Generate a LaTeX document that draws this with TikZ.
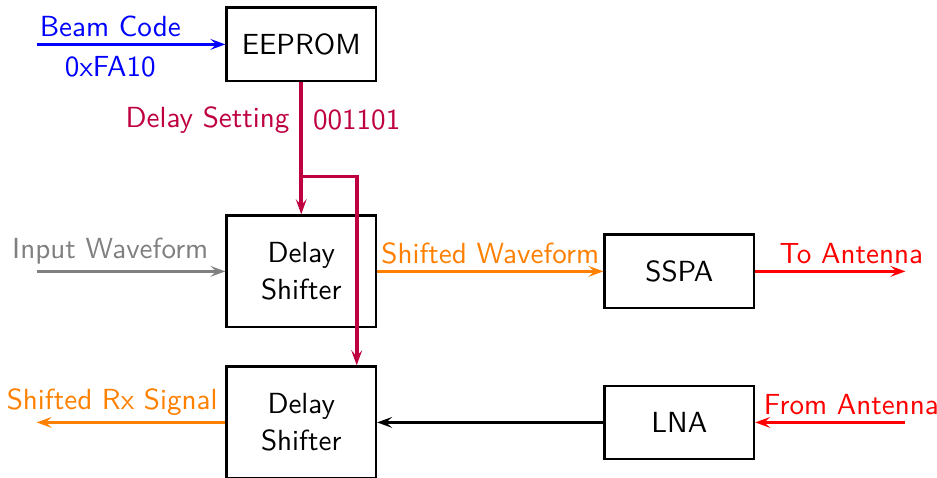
\documentclass[tikz,border=0pt]{standalone}
\usetikzlibrary{positioning,arrows.meta}
\begin{document}
\begin{tikzpicture}[
font=\sffamily\fontsize{9.7pt}{12.3pt}\selectfont,
block/.style={rectangle,draw=black,thick,minimum width=17.5mm,minimum height=8.6mm},
shifter/.style={block,minimum height=13.1mm,align=center},
signal/.style={-{Stealth[length=5pt,width=3.6pt,inset=2pt]},very thick},
lbl/.style={above,yshift=-1.5pt}
]
\useasboundingbox (0,0) rectangle (10.98,-5.60);

\node[block] (eeprom) at (3.53,-0.52) {EEPROM};
\node[shifter] (txshift) at (3.53,-3.18) {Delay\\Shifter};
\node[shifter] (rxshift) at (3.53,-4.95) {Delay\\Shifter};
\node[block] (sspa) at (7.96,-3.18) {SSPA};
\node[block] (lna) at (7.96,-4.95) {LNA};

\coordinate (beamin) at (0.43,-0.52);
\coordinate (wavein) at (0.43,-3.18);
\coordinate (rxout) at (0.43,-4.95);
\coordinate (antout) at (10.61,-3.18);
\coordinate (antin) at (10.61,-4.95);
\coordinate (split) at (3.53,-2.07);

\draw[signal,blue] (beamin) -- (eeprom.west)
  node[pos=0.39,lbl] {Beam Code} node[pos=0.39,below] {0xFA10};
\draw[very thick,purple] (eeprom.south) -- (split)
  node[pos=0.4,left] {Delay Setting} node[pos=0.4,right] {001101};
\draw[signal,purple] (split) -- (txshift.north);
\draw[signal,purple] (split) -| ([xshift=6.5mm]rxshift.north);
\draw[signal,gray] (wavein) -- (txshift.west) node[pos=0.39,lbl] {Input Waveform};
\draw[signal,orange] (txshift.east) -- (sspa.west) node[midway,lbl] {Shifted Waveform};
\draw[signal,red] (sspa.east) -- (antout) node[pos=0.64,lbl] {To Antenna};
\draw[signal,red] (antin) -- (lna.east) node[pos=0.36,lbl] {From Antenna};
\draw[signal] (lna.west) -- (rxshift.east);
\draw[signal,orange] (rxshift.west) -- (rxout) node[pos=0.6,lbl] {Shifted Rx Signal};
\end{tikzpicture}
\end{document}
